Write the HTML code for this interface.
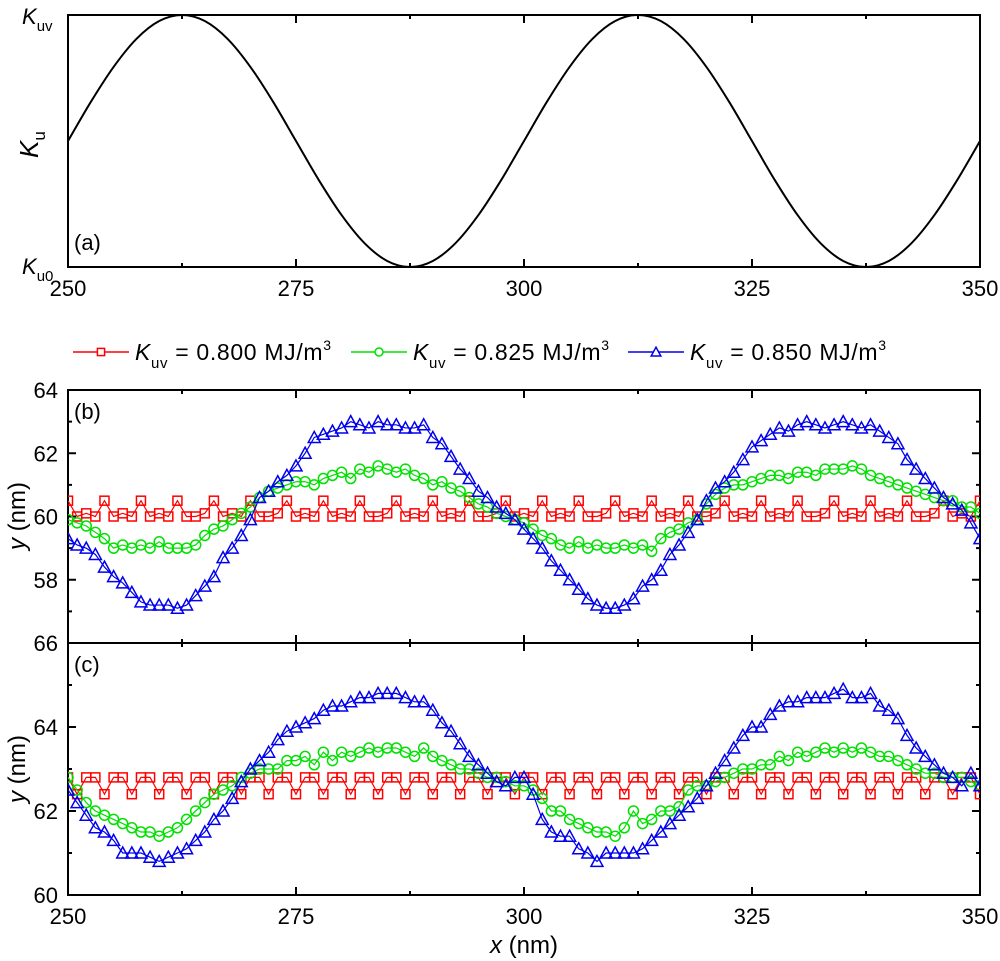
<!DOCTYPE html>
<html><head><meta charset="utf-8"><style>
body{margin:0;background:#fff;}
svg{display:block;font-family:"Liberation Sans",Arial,sans-serif;}
</style></head><body>
<svg id="fig" width="1000" height="961" viewBox="0 0 1000 961" xmlns="http://www.w3.org/2000/svg"></svg>
<script>
// ---- data ----
const kuX = [250,252.5,255,257.5,260,262.5,265,267.5,270,272.5,275,277.5,280,282.5,285,287.5,290,292.5,295,297.5,300,302.5,305,307.5,310,312.5,315,317.5,320,322.5,325,327.5,330,332.5,335,337.5,340,342.5,345,347.5,350];
const kuVal = [0.5,0.655,0.794,0.905,0.976,1,0.976,0.905,0.794,0.655,0.5,0.345,0.206,0.095,0.024,0,0.024,0.095,0.206,0.345,0.5,0.655,0.794,0.905,0.976,1,0.976,0.905,0.794,0.655,0.5,0.345,0.206,0.095,0.024,0,0.024,0.095,0.206,0.345,0.5];
const xStart = 250;
const bRed = [60.5,60,60.1,60,60.5,60,60.1,60,60.5,60,60.1,60,60.5,60,60,60.1,60.5,60,60.1,60,60.5,60,60,60.1,60.5,60,60.1,60,60.5,60,60.1,60,60.5,60,60,60.1,60.5,60,60.1,60,60.5,60,60.1,60,60.5,60,60,60.1,60.5,60,60.1,60,60.5,60,60.1,60,60.5,60,60,60.1,60.5,60,60.1,60,60.5,60,60.1,60,60.5,60,60,60.1,60.5,60,60.1,60,60.5,60,60.1,60,60.5,60,60,60.1,60.5,60,60.1,60,60.5,60,60.1,60,60.5,60,60,60.1,60.5,60,60.1,60,60.5];
const bGreen = [59.9,59.8,59.7,59.5,59.3,59.0,59.1,59.0,59.1,59.0,59.2,59.0,59.0,59.0,59.1,59.4,59.6,59.7,59.9,60.1,60.3,60.6,60.8,60.9,61.0,61.1,61.1,61.0,61.2,61.3,61.4,61.2,61.5,61.4,61.6,61.5,61.4,61.5,61.3,61.2,61.0,61.1,60.9,60.8,60.6,60.4,60.3,60.1,60.0,59.9,59.8,59.6,59.4,59.3,59.1,59.0,59.2,59.0,59.1,59.0,59.0,59.1,59.0,59.1,58.9,59.3,59.5,59.6,59.8,59.9,60.4,60.7,60.9,61.0,61.0,61.1,61.2,61.3,61.3,61.2,61.4,61.4,61.3,61.5,61.5,61.5,61.6,61.5,61.3,61.2,61.1,61.0,60.9,60.8,60.7,60.6,60.5,60.5,60.3,60.3,60.1];
const bBlue = [59.3,59.1,59.0,58.8,58.4,58.1,57.9,57.6,57.3,57.2,57.2,57.2,57.1,57.2,57.5,57.8,58.1,58.7,59.0,59.4,59.9,60.6,60.8,61.1,61.3,61.6,62.0,62.5,62.6,62.7,62.8,63.0,62.9,62.8,63.0,62.9,62.9,62.8,62.8,62.9,62.5,62.3,61.9,61.5,61.2,60.8,60.6,60.3,60.1,59.9,59.6,59.3,59.0,58.6,58.3,58.0,57.7,57.4,57.2,57.1,57.1,57.2,57.4,57.8,58.0,58.3,58.8,59.1,59.5,59.9,60.5,60.9,61.1,61.4,61.8,62.2,62.4,62.6,62.8,62.7,62.9,63.0,62.9,62.8,62.9,63.0,62.9,62.8,62.9,62.7,62.5,62.3,61.8,61.5,61.2,60.9,60.6,60.4,60.2,59.8,59.3];
const cRed = [62.8,62.4,62.8,62.8,62.4,62.8,62.8,62.4,62.8,62.8,62.4,62.8,62.8,62.4,62.8,62.8,62.4,62.8,62.8,62.4,62.8,62.8,62.4,62.8,62.8,62.4,62.8,62.8,62.4,62.8,62.8,62.4,62.8,62.8,62.4,62.8,62.8,62.4,62.8,62.8,62.4,62.8,62.8,62.4,62.8,62.8,62.4,62.8,62.8,62.4,62.8,62.8,62.4,62.8,62.8,62.4,62.8,62.8,62.4,62.8,62.8,62.4,62.8,62.8,62.4,62.8,62.8,62.4,62.8,62.8,62.4,62.8,62.8,62.4,62.8,62.8,62.4,62.8,62.8,62.4,62.8,62.8,62.4,62.8,62.8,62.4,62.8,62.8,62.4,62.8,62.8,62.4,62.8,62.8,62.4,62.8,62.8,62.4,62.8,62.8,62.4];
const cGreen = [62.8,62.5,62.2,62.0,61.9,61.8,61.7,61.6,61.5,61.5,61.4,61.5,61.6,61.8,62.0,62.2,62.4,62.5,62.6,62.8,62.9,63.0,63.0,63.0,63.2,63.2,63.3,63.1,63.4,63.2,63.4,63.3,63.4,63.5,63.4,63.5,63.5,63.4,63.3,63.5,63.3,63.2,63.1,63.0,63.0,62.9,62.8,62.8,62.7,62.6,62.6,62.5,62.3,62.0,62.0,61.8,61.7,61.6,61.5,61.5,61.4,61.6,62.0,61.7,61.8,62.0,62.0,62.1,62.5,62.6,62.6,62.7,62.8,62.9,63.0,63.0,63.1,63.1,63.3,63.2,63.4,63.3,63.4,63.5,63.4,63.5,63.4,63.5,63.4,63.3,63.3,63.2,63.1,63.0,62.9,62.9,62.8,62.8,62.8,62.7,62.6];
const cBlue = [62.5,62.2,61.9,61.6,61.5,61.3,61.0,61.0,61.0,60.9,60.8,60.9,61.0,61.1,61.3,61.5,61.8,62.0,62.3,62.7,63.0,63.2,63.4,63.7,63.9,64.0,64.1,64.2,64.4,64.5,64.5,64.6,64.7,64.7,64.8,64.8,64.8,64.7,64.6,64.6,64.4,64.1,63.9,63.6,63.3,63.1,62.9,62.7,62.6,62.8,62.8,62.4,61.8,61.5,61.4,61.4,61.1,61.0,60.8,61.0,61.0,61.0,61.0,61.1,61.3,61.5,61.7,61.9,62.1,62.3,62.6,62.9,63.2,63.5,63.8,64.0,64.0,64.3,64.5,64.6,64.6,64.7,64.7,64.7,64.8,64.9,64.7,64.7,64.8,64.5,64.4,64.2,63.8,63.5,63.3,63.1,62.9,62.8,62.6,62.9,62.6];
const xTicks = [250,275,300,325,350];
const bTicks = [56,58,60,62,64];
const bTickLabels = ["56","58","60","62","64"];
const cTicks = [60,62,64,66];
const cTickLabels = ["60","62","64","66"];

// ---- layout ----
const NS="http://www.w3.org/2000/svg";
const svg=document.getElementById('fig');
const L=68,R=980;
const FS=22;
const sx=v=>L+(v-250)*(R-L)/100;
function el(tag,attrs,parent){const e=document.createElementNS(NS,tag);for(const k in attrs)e.setAttribute(k,attrs[k]);(parent||svg).appendChild(e);return e;}
function txt(s,x,y,size,anchor,parent){const t=el('text',{x:x,y:y,'font-size':size,'text-anchor':anchor||'middle',fill:'#000'},parent);t.textContent=s;return t;}

function frame(name,top,bot,yMinorVals,syf,showXLabels){
  const g=el('g',{});
  
  
  el('rect',{x:L,y:top,width:R-L,height:bot-top,fill:'none',stroke:'#000','stroke-width':2},g);
  for(let v=250;v<=350;v+=12.5){
    const x=sx(v);const major=(v-250)%25===0;const len=major?8:4;
    el('line',{x1:x,y1:top,x2:x,y2:top+len,stroke:'#000','stroke-width':2},g);
    el('line',{x1:x,y1:bot,x2:x,y2:bot-len,stroke:'#000','stroke-width':2},g);
  }
  if(yMinorVals){
    yMinorVals.forEach(([v,major])=>{const y=syf(v);const len=major?8:4;
      el('line',{x1:L,y1:y,x2:L+len,y2:y,stroke:'#000','stroke-width':2},g);
      el('line',{x1:R,y1:y,x2:R-len,y2:y,stroke:'#000','stroke-width':2},g);});
  }
  if(showXLabels){
    xTicks.forEach(v=>{const t=txt(String(v),sx(v),showXLabels,FS,'middle',g);
      });
  }
  return g;
}

// ---- panel a ----
const aTop=15,aBot=267;
const sa=v=>aBot-v*(aBot-aTop);
const ga=frame('panel-a',aTop,aBot,null,null,296);
const P=kuX.map((x,i)=>[sx(x),sa(kuVal[i])]);
let d='M'+P[0][0]+','+P[0][1];
for(let i=0;i<P.length-1;i++){
  const p0=P[Math.max(0,i-1)],p1=P[i],p2=P[i+1],p3=P[Math.min(P.length-1,i+2)];
  const c1=[p1[0]+(p2[0]-p0[0])/6,p1[1]+(p2[1]-p0[1])/6];
  const c2=[p2[0]-(p3[0]-p1[0])/6,p2[1]-(p3[1]-p1[1])/6];
  d+=` C${c1[0]},${c1[1]} ${c2[0]},${c2[1]} ${p2[0]},${p2[1]}`;
}
const ku=el('path',{d:d,fill:'none',stroke:'#000','stroke-width':2},ga);


txt('(a)',74,250,FS,'start',ga);
const kuv=el('text',{x:22,y:24,'font-size':FS,fill:'#000'});kuv.innerHTML='<tspan font-style="italic">K</tspan><tspan font-size="15" dy="7">uv</tspan>';

const ku0=el('text',{x:22,y:274,'font-size':FS,fill:'#000'});ku0.innerHTML='<tspan font-style="italic">K</tspan><tspan font-size="15" dy="7">u0</tspan>';

const kuT=el('text',{transform:'translate(38,158) rotate(-90)','font-size':26,fill:'#000'});kuT.innerHTML='<tspan font-style="italic">K</tspan><tspan font-size="17" dy="7">u</tspan>';


// ---- markers ----
function marker(g,type,x,y,color,s){
  s=s||1;let m;
  if(type==='sq') m=el('rect',{x:x-4.5*s,y:y-4.5*s,width:9*s,height:9*s,fill:'#fff',stroke:color,'stroke-width':1.5},g);
  else if(type==='ci') m=el('circle',{cx:x,cy:y,r:5*s,fill:'#fff',stroke:color,'stroke-width':1.5},g);
  else m=el('polygon',{points:`${x},${y-6*s} ${x-6*s},${y+5*s} ${x+6*s},${y+5*s}`,fill:'#fff',stroke:color,'stroke-width':1.5},g);
  return m;
}
function series(parent,name,vals,sy,type,color){
  const g=el('g',{},parent);
  
  
  const pts=vals.map((v,i)=>sx(xStart+i)+','+sy(v)).join(' ');
  el('polyline',{points:pts,fill:'none',stroke:color,'stroke-width':1.2},g);
  vals.forEach((v,i)=>{const m=marker(g,type,sx(xStart+i),sy(v),color);
    m.setAttribute('fill','none');
    
    });
}

// ---- panel b ----
const bTop=390,bBot=643;
const sb=v=>bBot-(v-56)*(bBot-bTop)/8;
const bMinor=[];for(let v=56;v<=64;v+=1)bMinor.push([v,v%2===0]);
const clipB=el('clipPath',{id:'cb'});el('rect',{x:L,y:bTop,width:R-L,height:bBot-bTop},clipB);
const gb=frame('panel-b',bTop,bBot,bMinor,sb,null);
const gbs=el('g',{'clip-path':'url(#cb)'},gb);
series(gbs,'series-b-0800',bRed,sb,'sq','#ff0000');
series(gbs,'series-b-0825',bGreen,sb,'ci','#00e000');
series(gbs,'series-b-0850',bBlue,sb,'tr','#0000ee');
bTicks.forEach((v,i)=>{if(v===56)return;const t=txt(bTickLabels[i],58,sb(v)+8,FS,'end',gb);
  });
txt('(b)',74,419,FS,'start',gb);

// ---- panel c ----
const cTop=643,cBot=895;
const sc=v=>cBot-(v-60)*(cBot-cTop)/6;
const cMinor=[];for(let v=60;v<=66;v+=1)cMinor.push([v,v%2===0]);
const clipC=el('clipPath',{id:'cc'});el('rect',{x:L,y:cTop,width:R-L,height:cBot-cTop},clipC);
const gc=frame('panel-c',cTop,cBot,cMinor,sc,924);
const gcs=el('g',{'clip-path':'url(#cc)'},gc);
series(gcs,'series-c-0800',cRed,sc,'sq','#ff0000');
series(gcs,'series-c-0825',cGreen,sc,'ci','#00e000');
series(gcs,'series-c-0850',cBlue,sc,'tr','#0000ee');
cTicks.forEach((v,i)=>{const t=txt(cTickLabels[i],58,sc(v)+8,FS,'end',gc);
  });
txt('(c)',74,672,FS,'start',gc);

// axis titles
[[516,'y-axis-title-b'],[769,'y-axis-title-c']].forEach(([cy,n])=>{
  const t=el('text',{transform:`translate(25,${cy}) rotate(-90)`,'font-size':24,'text-anchor':'middle',fill:'#000'});
  t.innerHTML='<tspan font-style="italic">y</tspan> (nm)';
  
});
const xt=el('text',{x:524,y:953,'font-size':24,'text-anchor':'middle',fill:'#000'});
xt.innerHTML='<tspan font-style="italic">x</tspan> (nm)';


// legend
const lg=el('g',{});


[[73,'sq','#ff0000','0.800'],[351,'ci','#00e000','0.825'],[628,'tr','#0000ee','0.850']].forEach(([x0,type,col,val])=>{
  const e=el('g',{},lg);
  
  
  el('line',{x1:x0,y1:352,x2:x0+56,y2:352,stroke:col,'stroke-width':1.5},e);
  marker(e,type,x0+28,352,col,0.8);
  const t=el('text',{x:x0+62,y:360,'font-size':23,fill:'#000'},e);
  t.innerHTML=`<tspan font-style="italic">K</tspan><tspan font-size="15" dy="8">uv</tspan><tspan dy="-8"> = ${val} MJ/m</tspan><tspan font-size="14" dy="-10">3</tspan>`;
  t.setAttribute('textLength','196');
});
</script>
</body></html>
